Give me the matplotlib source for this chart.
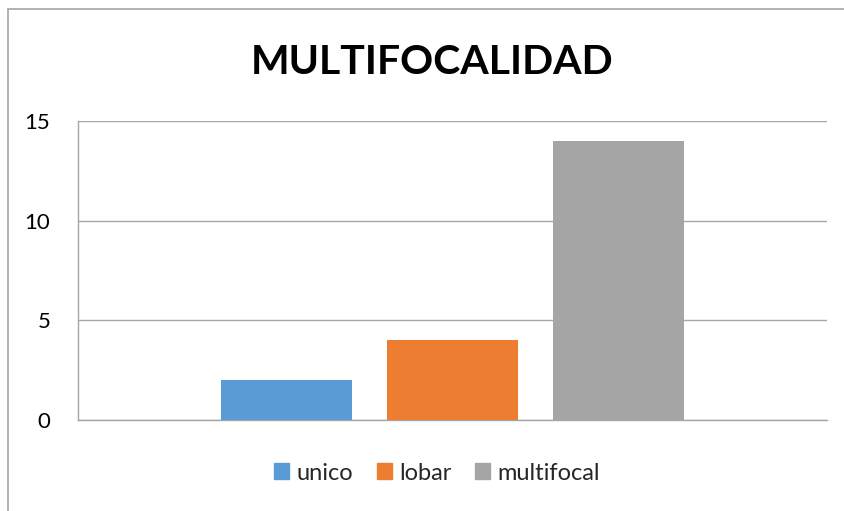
import matplotlib.pyplot as plt
import matplotlib.patches as mpatches
import numpy as np

series = ['unico', 'lobar', 'multifocal']
values = [2, 4, 14]
colors = ['#5B9BD5', '#ED7D31', '#A5A5A5']
yticks = [0, 5, 10, 15]

plt.rcParams['font.family'] = ['Lato', 'DejaVu Sans']

fig = plt.figure(figsize=(8.45, 5.11), dpi=100)
ax = fig.add_axes([78 / 845, 1 - 420 / 511, 749 / 845, 299 / 511])

# outer chart frame (partly cut off at right/bottom)
frame = mpatches.Rectangle((8 / 845, -0.05), 1.1, 1 - 9 / 511 + 0.05,
                           transform=fig.transFigure, fill=False,
                           edgecolor='#a6a6a6', linewidth=1.2, clip_on=False)
fig.patches.append(frame)

step = 166 / 749
width = 131 / 749
offsets = (np.arange(len(series)) - 1) * step
for off, v, c, name in zip(offsets, values, colors, series):
    ax.bar(off, v, width=width, color=c, label=name, zorder=3)

ax.set_xlim(-0.5, 0.5)
ax.set_ylim(0, 15)
ax.set_yticks(yticks)
ax.set_xticks([])
ax.yaxis.grid(True, color='#a6a6a6', linewidth=1.0, zorder=0)
ax.tick_params(axis='y', length=0, labelsize=16, pad=20, colors='#000000')
for side in ['top', 'right']:
    ax.spines[side].set_visible(False)
for side in ['left', 'bottom']:
    ax.spines[side].set_color('#a6a6a6')
    ax.spines[side].set_linewidth(1.0)

fig.text(432 / 845, 1 - 62 / 511, 'MULTIFOCALIDAD', ha='center', va='center',
         fontsize=29.5, fontweight='bold', color='#000000')

handles = [mpatches.Patch(color=c) for c in colors]
fig.legend(handles, series, loc='center', bbox_to_anchor=(437 / 845, 1 - 473 / 511),
           ncol=3, frameon=False, fontsize=17, handlelength=0.65, handleheight=0.65,
           handletextpad=0.3, columnspacing=1.0, labelcolor='#262626')

fig.savefig('out.png', dpi=100)
